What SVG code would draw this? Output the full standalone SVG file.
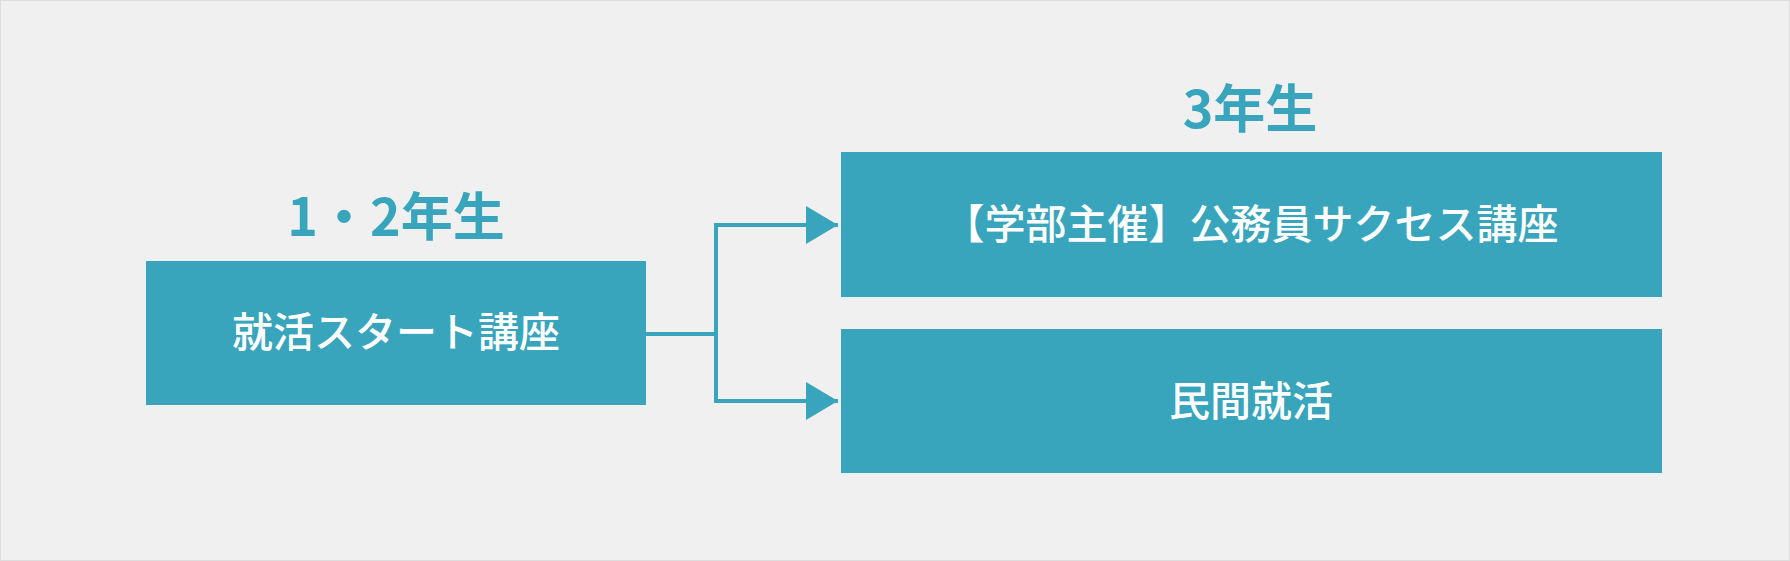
<svg xmlns="http://www.w3.org/2000/svg" width="1790" height="561" viewBox="0 0 1790 561">
<style>
.box{fill:#38a5bd}
.t{font-family:"Noto Sans CJK JP",sans-serif;fill:#fff;font-size:41px;font-weight:500;text-anchor:middle}
.h{font-family:"Noto Sans CJK JP",sans-serif;fill:#38a5bd;font-size:52px;font-weight:700;text-anchor:middle}
.c{fill:none;stroke:#38a5bd;stroke-width:4}
</style>
<defs><marker id="a" markerUnits="userSpaceOnUse" markerWidth="32" markerHeight="38" refX="32" refY="19" orient="auto"><path d="M0,0L32,19L0,38z" fill="#38a5bd"/></marker></defs>
<rect x="0.5" y="0.5" width="1789" height="560" fill="#f0f0f0" stroke="#ddd"/>
<text class="h" x="396" y="236">1・2年生</text>
<text class="h" x="1250" y="128">3年生</text>
<g id="connectors">
<path class="c" d="M646,334H716V225H838" marker-end="url(#a)"/>
<path class="c" d="M716,334V401H838" marker-end="url(#a)"/>
</g>
<g id="n1"><rect class="box" x="146" y="261" width="500" height="144"/><text class="t" x="396" y="347">就活スタート講座</text></g>
<g id="n2"><rect class="box" x="841" y="152" width="821" height="145"/><text class="t" x="1251" y="239">【学部主催】公務員サクセス講座</text></g>
<g id="n3"><rect class="box" x="841" y="329" width="821" height="144"/><text class="t" x="1251" y="416">民間就活</text></g>
</svg>
